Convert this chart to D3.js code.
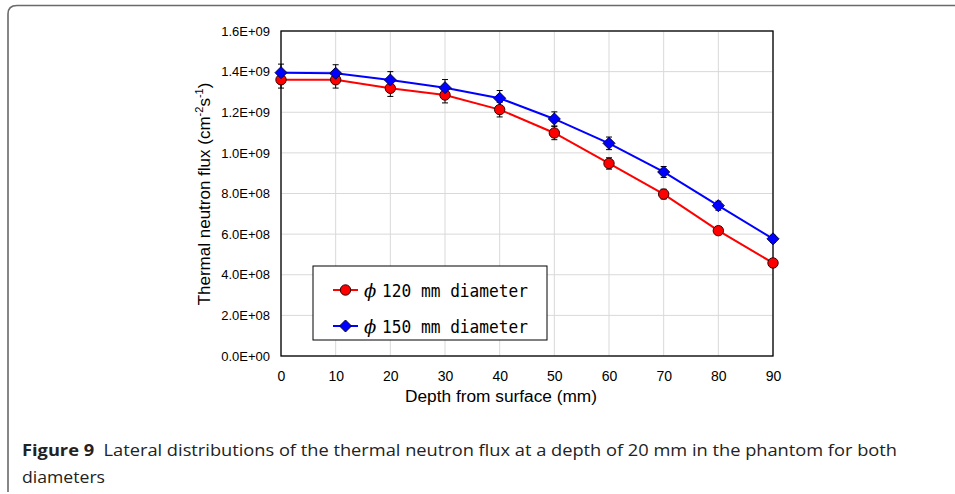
<!DOCTYPE html>
<html>
<head>
<meta charset="utf-8">
<script src="https://cdn.jsdelivr.net/npm/d3@7"></script>
<style>
  html, body { margin: 0; padding: 0; background: #fff; }
  svg { display: block; }
</style>
</head>
<body>
<svg id="chart" width="955" height="494"></svg>
<script>
// ---- data ----
const depths = [0, 10, 20, 30, 40, 50, 60, 70, 80, 90];
const flux120 = [1.36e9, 1.36e9, 1.318e9, 1.285e9, 1.213e9, 1.098e9, 0.948e9, 0.797e9, 0.617e9, 0.458e9];
const err120  = [0.041e9, 0.041e9, 0.040e9, 0.039e9, 0.036e9, 0.033e9, 0.028e9, 0.024e9, 0.019e9, 0.014e9];
const flux150 = [1.395e9, 1.392e9, 1.359e9, 1.321e9, 1.269e9, 1.167e9, 1.047e9, 0.906e9, 0.740e9, 0.577e9];
const err150  = [0.042e9, 0.042e9, 0.041e9, 0.040e9, 0.038e9, 0.035e9, 0.031e9, 0.027e9, 0.022e9, 0.017e9];
const seriesNames = ["ϕ120 mm diameter", "ϕ150 mm diameter"];
const yTicks = [0, 2e8, 4e8, 6e8, 8e8, 1.0e9, 1.2e9, 1.4e9, 1.6e9];
const yTickLabels = ["0.0E+00", "2.0E+08", "4.0E+08", "6.0E+08", "8.0E+08", "1.0E+09", "1.2E+09", "1.4E+09", "1.6E+09"];
const xTicks = [0, 10, 20, 30, 40, 50, 60, 70, 80, 90];
const xTitle = "Depth from surface (mm)";
const captionBold = "Figure 9";
const captionRest = "  Lateral distributions of the thermal neutron flux at a depth of 20 mm in the phantom for both";
const captionLine2 = "diameters";

// ---- layout ----
const svg = d3.select("#chart");
const L = 281, R = 773, T = 31, B = 356;
const x = d3.scaleLinear().domain([0, 90]).range([L, R]);
const y = d3.scaleLinear().domain([0, 1.6e9]).range([B, T]);

// outer frame (rounded, open to the right/bottom)
svg.append("path")
  .attr("d", `M8,492 L8,14 Q8,5.5 17,5.5 L960,5.5`)
  .attr("fill", "none").attr("stroke", "#6a6a6a").attr("stroke-width", 1.6);

// gridlines
const g = svg.append("g");
g.selectAll(".hg").data(yTicks).enter().append("line")
  .attr("x1", L).attr("x2", R).attr("y1", d => y(d)).attr("y2", d => y(d))
  .attr("stroke", "#d9d9d9").attr("stroke-width", 1);
g.selectAll(".vg").data(xTicks).enter().append("line")
  .attr("y1", T).attr("y2", B).attr("x1", d => x(d)).attr("x2", d => x(d))
  .attr("stroke", "#d9d9d9").attr("stroke-width", 1);

// axes via d3
const yAxis = d3.axisLeft(y).tickValues(yTicks).tickFormat((d, i) => yTickLabels[i]).tickSize(0).tickPadding(11);
const xAxis = d3.axisBottom(x).tickValues(xTicks).tickFormat(d => String(d)).tickSize(0).tickPadding(15);
const ya = svg.append("g").attr("transform", `translate(${L},0)`).call(yAxis);
const xa = svg.append("g").attr("transform", `translate(0,${B})`).call(xAxis);
ya.select(".domain").remove();
xa.select(".domain").remove();
ya.selectAll("text").attr("font-family", "Liberation Sans, Arial, sans-serif")
  .attr("font-size", 13).attr("fill", "#000");
xa.selectAll("text").attr("font-family", "Liberation Sans, Arial, sans-serif")
  .attr("font-size", 14).attr("fill", "#000");

// plot border
svg.append("rect").attr("x", L).attr("y", T).attr("width", R - L).attr("height", B - T)
  .attr("fill", "none").attr("stroke", "#000").attr("stroke-width", 1.3);

// axis titles
svg.append("text").attr("x", 501).attr("y", 402).attr("text-anchor", "middle")
  .attr("font-family", "Liberation Sans, Arial, sans-serif").attr("font-size", 17.3)
  .text(xTitle);
const yt = svg.append("text").attr("transform", "translate(210,194) rotate(-90)")
  .attr("text-anchor", "middle")
  .attr("font-family", "Liberation Sans, Arial, sans-serif").attr("font-size", 17);
yt.append("tspan").text("Thermal neutron flux (cm");
yt.append("tspan").attr("dy", -7).attr("font-size", 11).text("-2");
yt.append("tspan").attr("dy", 7).text("s");
yt.append("tspan").attr("dy", -7).attr("font-size", 11).text("-1");
yt.append("tspan").attr("dy", 7).text(")");

// series
const series = [
  { vals: flux120, err: err120, color: "#ff0000", shape: "circle" },
  { vals: flux150, err: err150, color: "#0000ff", shape: "diamond" }
];
const line = d3.line().x(d => x(d[0])).y(d => y(d[1]));

function drawMarker(sel, shape, color) {
  if (shape === "circle") {
    sel.append("circle").attr("r", 5.2).attr("fill", color).attr("stroke", "#3a0000").attr("stroke-width", 1);
  } else {
    sel.append("path").attr("d", "M0,-6 L6,0 L0,6 L-6,0 Z").attr("fill", color)
      .attr("stroke", "#00003a").attr("stroke-width", 1);
  }
}

series.forEach(s => {
  const pts = depths.map((d, i) => [d, s.vals[i], s.err[i]]);
  svg.append("path").datum(pts).attr("d", line).attr("fill", "none")
    .attr("stroke", s.color).attr("stroke-width", 2);
  const eb = svg.append("g");
  pts.forEach(p => {
    const cx = x(p[0]), y1 = y(p[1] + p[2]), y2 = y(p[1] - p[2]);
    eb.append("line").attr("x1", cx).attr("x2", cx).attr("y1", y1).attr("y2", y2).attr("stroke", "#000").attr("stroke-width", 1);
    [y1, y2].forEach(yy => eb.append("line").attr("x1", cx - 3).attr("x2", cx + 3).attr("y1", yy).attr("y2", yy).attr("stroke", "#000").attr("stroke-width", 1));
  });
});
series.forEach(s => {
  const pts = depths.map((d, i) => [d, s.vals[i]]);
  const mg = svg.append("g");
  pts.forEach(p => {
    const m = mg.append("g").attr("transform", `translate(${x(p[0])},${y(p[1])})`);
    drawMarker(m, s.shape, s.color);
  });
});

// legend
const lg = svg.append("g");
lg.append("rect").attr("x", 313).attr("y", 266).attr("width", 234).attr("height", 74)
  .attr("fill", "#fff").attr("stroke", "#000").attr("stroke-width", 1);
series.forEach((s, i) => {
  const cy = 290 + i * 36;
  lg.append("line").attr("x1", 333).attr("x2", 358).attr("y1", cy).attr("y2", cy)
    .attr("stroke", s.color).attr("stroke-width", 2);
  const m = lg.append("g").attr("transform", `translate(345.5,${cy})`);
  drawMarker(m, s.shape, s.color);
  lg.append("text").attr("x", 364).attr("y", cy + 6.5)
    .attr("font-family", "DejaVu Serif, serif").attr("font-style", "italic").attr("font-size", 18)
    .text(seriesNames[i].charAt(0));
  lg.append("text").attr("x", 382).attr("y", cy + 7)
    .attr("font-family", "DejaVu Sans Mono, Liberation Mono, monospace").attr("font-size", 18.5)
    .attr("textLength", 146).attr("lengthAdjust", "spacingAndGlyphs")
    .text(seriesNames[i].slice(1));
});

// caption
const cap = svg.append("text").attr("x", 22).attr("y", 456)
  .attr("font-family", "Open Sans, Noto Sans, sans-serif").attr("font-size", 16).attr("fill", "#222")
  .attr("xml:space", "preserve").style("white-space", "pre");
cap.append("tspan").attr("font-weight", "bold").text(captionBold);
cap.append("tspan").text(captionRest);
cap.attr("textLength", 875).attr("lengthAdjust", "spacingAndGlyphs");
svg.append("text").attr("x", 22).attr("y", 483)
  .attr("font-family", "Open Sans, Noto Sans, sans-serif").attr("font-size", 16).attr("fill", "#222")
  .attr("textLength", 83).attr("lengthAdjust", "spacingAndGlyphs")
  .text(captionLine2);
</script>
</body>
</html>
